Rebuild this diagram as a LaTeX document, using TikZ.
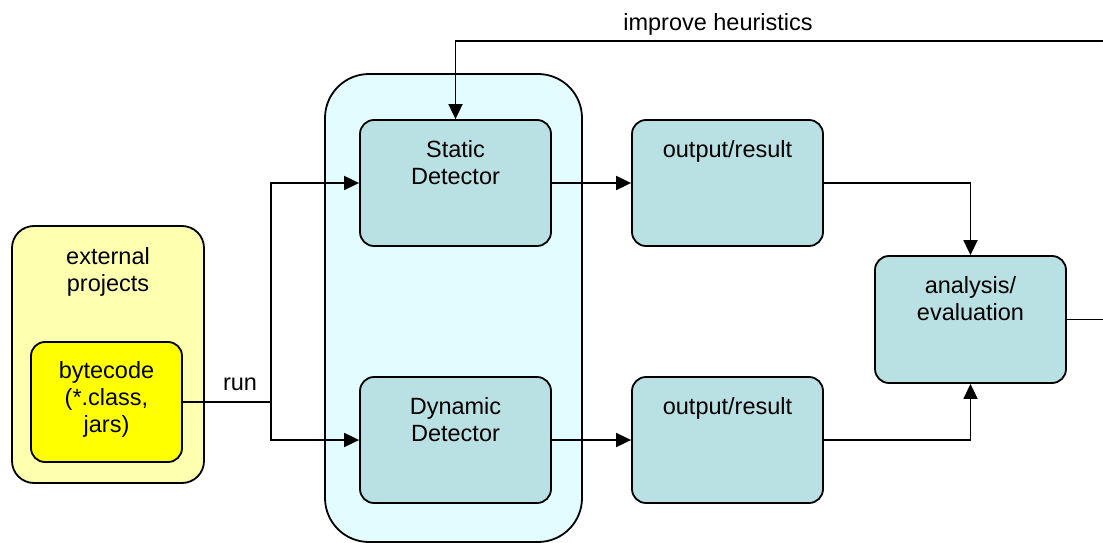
\documentclass[tikz,border=0pt]{standalone}
\usepackage{fontspec}
\setmainfont{Liberation Sans}
\usetikzlibrary{arrows.meta}
\definecolor{boxfill}{HTML}{B9E0E3}
\definecolor{paleyellow}{HTML}{FFFFB0}
\definecolor{palecyan}{HTML}{E2FCFF}
\definecolor{bytefill}{HTML}{FFFF00}
\tikzset{
  every node/.style={font=\fontsize{23.5}{27}\selectfont},
  base/.style={draw=black, line width=1.8pt, rounded corners=14pt, inner sep=0pt},
  procbox/.style={base, fill=boxfill, minimum width=191pt, minimum height=126pt},
  lbl/.style={anchor=north, yshift=-21pt, align=center, inner sep=0pt},
  conn/.style={line width=1.8pt, draw=black},
  arr/.style={conn, -{Triangle[length=15pt,width=14pt]}},
}
\begin{document}
\begin{tikzpicture}[x=1pt, y=-1pt]
\clip (0,0) rectangle (1103,543);
\fill[white] (0,0) rectangle (1103,543);
% containers
\node[base, fill=paleyellow, rounded corners=22pt, minimum width=192pt, minimum height=257pt,
  label={[lbl, yshift=-1pt]north:external\\projects}] (ext) at (108,354.5) {};
\node[base, fill=bytefill, minimum width=151pt, minimum height=120pt,
  label={[lbl, yshift=1pt]north:bytecode\\(*.class,\\jars)}] (byte) at (106.5,402) {};
\node[base, fill=palecyan, rounded corners=44pt, minimum width=257pt, minimum height=468pt] (cont) at (453.5,308) {};
% process boxes
\node[procbox, label={[lbl]north:Static\\Detector}] (sd) at (455.5,183) {};
\node[procbox, label={[lbl]north:Dynamic\\Detector}] (dd) at (455.5,440) {};
\node[procbox, label={[lbl]north:output/result}] (o1) at (727.5,183) {};
\node[procbox, label={[lbl]north:output/result}] (o2) at (727.5,440) {};
\node[procbox, minimum height=127pt, label={[lbl]north:analysis/\\evaluation}] (an) at (970.5,319.5) {};
% labels
\node (runlbl) at (240,384) {run};
\node (heur) at (718,24) {improve heuristics};
% coordinates
\coordinate (split) at (271,402);
\coordinate (fbr) at (1125,319.5);
\coordinate (fbt) at (1125,41);
% connectors
\draw[conn] (byte.east |- split) -- (split);
\draw[arr] (split) |- (sd.west);
\draw[arr] (split) |- (dd.west);
\draw[arr] (sd.east) -- (o1.west);
\draw[arr] (dd.east) -- (o2.west);
\draw[arr] (o1.east) -| (an.north);
\draw[arr] (o2.east) -| (an.south);
\draw[arr] (an.east) -- (fbr) -- (fbt) -| (sd.north);
\end{tikzpicture}
\end{document}
